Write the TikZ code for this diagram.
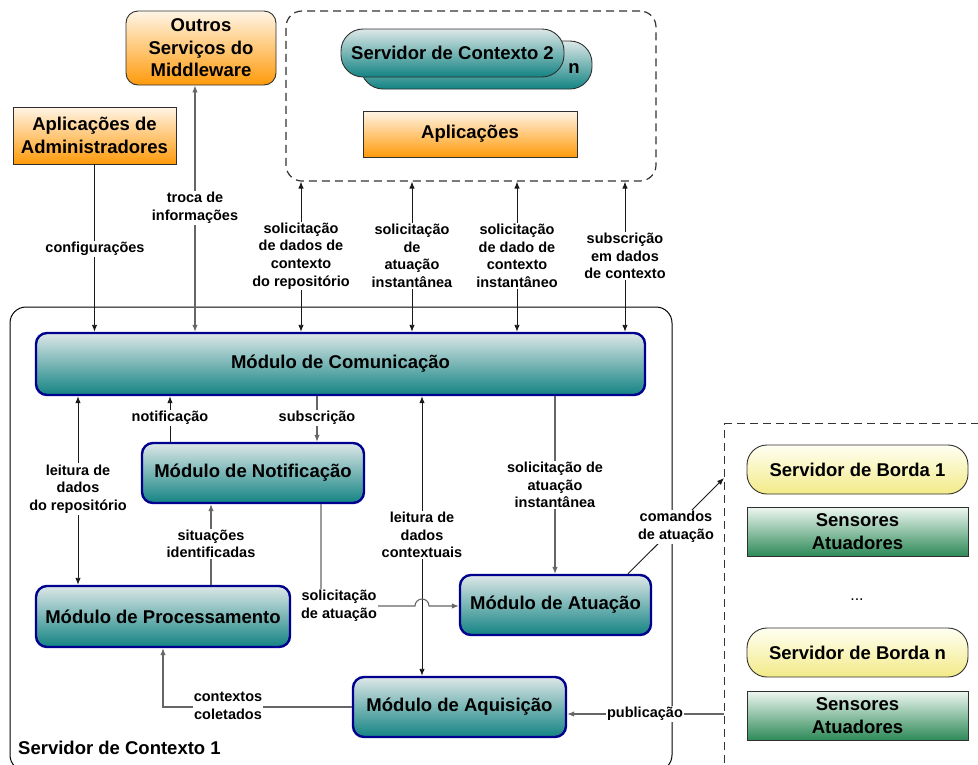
\documentclass[tikz,border=0pt]{standalone}
\usepackage{fontspec}
\setmainfont{Liberation Sans}
\usetikzlibrary{arrows.meta}
\definecolor{tealD}{HTML}{138383}
\definecolor{tealL}{HTML}{DDE7E7}
\definecolor{orD}{HTML}{FF9A0A}
\definecolor{orL}{HTML}{FFF5E6}
\definecolor{yeD}{HTML}{F3EA88}
\definecolor{yeL}{HTML}{FFFFF2}
\definecolor{grD}{HTML}{2E8A58}
\definecolor{grL}{HTML}{EEF7F1}
\definecolor{navyb}{HTML}{00008E}
\definecolor{edgec}{HTML}{303030}
\definecolor{connc}{HTML}{1A1A1A}
\definecolor{conng}{HTML}{666666}
\newcommand\mainf{\fontsize{18.5}{22.5}\selectfont\bfseries}
\newcommand\lblf{\fontsize{14.5}{17.6}\selectfont\bfseries}
\tikzset{
  modbox/.style={draw=navyb, line width=2.4pt, rounded corners=11pt, top color=tealL, bottom color=tealD, font=\mainf, inner sep=0pt, align=center},
  orbox/.style={draw=edgec, line width=0.9pt, top color=orL, bottom color=orD, font=\mainf, inner sep=0pt, align=center},
  yebox/.style={draw=edgec, line width=0.9pt, top color=yeL, bottom color=yeD, font=\mainf, inner sep=0pt, align=center, rounded corners=20pt, minimum width=221pt, minimum height=49pt},
  grbox/.style={draw=edgec, line width=0.9pt, top color=grL, bottom color=grD, font=\mainf, inner sep=0pt, align=center, minimum width=221pt, minimum height=49pt},
  scpill/.style={draw=edgec, line width=0.9pt, top color=tealL, bottom color=tealD, font=\mainf, inner sep=0pt, rounded corners=22pt, minimum height=48pt},
  grpbox/.style={draw=black!80, line width=1.2pt, dash pattern=on 8pt off 5pt, inner sep=0pt},
  lbl/.style={fill=white, inner sep=1.2pt, align=center, font=\lblf},
  conn/.style={draw=connc, line width=0.9pt},
  conng/.style={draw=conng, line width=1.1pt},
  tip/.style={-{Latex[length=7pt,width=5.5pt]}},
  tipb/.style={{Latex[length=7pt,width=5.5pt]}-{Latex[length=7pt,width=5.5pt]}}
}
\begin{document}
\begin{tikzpicture}[x=1pt,y=-1pt]
\useasboundingbox (0,0) rectangle (978,764);
% groups
\node[grpbox, rounded corners=16pt, minimum width=370pt, minimum height=170pt] (topgrp) at (471,96) {};
\node[draw=black, line width=1pt, rounded corners=16pt, minimum width=662pt, minimum height=464pt, inner sep=0pt] (sc1) at (341,539) {};
\node[grpbox, minimum width=280pt, minimum height=370pt, anchor=north west] (edgegrp) at (724,423) {};
\node[font=\mainf, anchor=base west, inner sep=0pt] (sc1lbl) at (18,754) {Servidor de Contexto 1};
% top boxes
\node[orbox, rounded corners=12pt, minimum width=150pt, minimum height=74pt] (outros) at (201,48) {Outros\\Serviços do\\Middleware};
\node[orbox, minimum width=163pt, minimum height=57pt] (admin) at (94.5,135.5) {Aplicações de\\Administradores};
\node[scpill, minimum width=231pt] (sc2b) at (476.5,65) {};
\node[scpill, minimum width=223pt] (sc2f) at (452.5,53) {Servidor de Contexto 2};
\node[font=\mainf, inner sep=0pt] (sc2n) at (574,69) {n};
\node[orbox, minimum width=214pt, minimum height=46pt] (apps) at (470,134) {Aplicações};
% modules
\node[modbox, minimum width=609pt, minimum height=62pt] (com) at (340.5,364) {Módulo de Comunicação};
\node[modbox, minimum width=222pt, minimum height=60pt] (notif) at (253,473) {Módulo de Notificação};
\node[modbox, minimum width=254pt, minimum height=61pt] (proc) at (163,616.5) {Módulo de Processamento};
\node[modbox, minimum width=191pt, minimum height=60pt] (atua) at (555.5,605) {Módulo de Atuação};
\node[modbox, minimum width=213pt, minimum height=60pt] (aqui) at (459.5,707) {Módulo de Aquisição};
% edge servers
\node[yebox] (borda1) at (857.5,469.5) {Servidor de Borda 1};
\node[grbox] (sens1) at (857.5,531.5) {Sensores\\Atuadores};
\node[font=\fontsize{16}{18}\selectfont, inner sep=0pt] (dots) at (857,600) {...};
\node[yebox] (bordan) at (857.5,652.5) {Servidor de Borda n};
\node[grbox] (sensn) at (857.5,715.5) {Sensores\\Atuadores};
% helper x coordinates
\coordinate (x78) at (78,0);
\coordinate (x170) at (170,0);
\coordinate (x195) at (195,0);
\coordinate (x211) at (211,0);
\coordinate (x301) at (301,0);
\coordinate (x317) at (317,0);
\coordinate (x321) at (321,0);
\coordinate (x412) at (412,0);
\coordinate (x422) at (422,0);
\coordinate (x517) at (517,0);
\coordinate (x555) at (555,0);
\coordinate (x625) at (625,0);
\coordinate (x628) at (628,0);
\coordinate (cmd) at (724,478);
\coordinate (pub) at (724,714);
\coordinate (y606) at (0,606);
% connectors top
\draw[conn, tip] (admin.south) -- (admin.south |- com.north);
\draw[conng, tipb] (x195 |- com.north) -- (x195 |- outros.south);
\draw[conn, tipb] (x301 |- com.north) -- (x301 |- topgrp.south);
\draw[conn, tipb] (x412 |- com.north) -- (x412 |- topgrp.south);
\draw[conn, tipb] (x517 |- com.north) -- (x517 |- topgrp.south);
\draw[conn, tipb] (x625 |- com.north) -- (x625 |- topgrp.south);
\node[lbl] (lconf) at (95,249) {configurações};
\node[lbl] (ltroca) at (195,208) {troca de\\informações};
\node[lbl] (lsol1) at (301,256) {solicitação\\de dados de\\contexto\\do repositório};
\node[lbl] (lsol2) at (412,256) {solicitação\\de\\atuação\\instantânea};
\node[lbl] (lsol3) at (517,256) {solicitação\\de dado de\\contexto\\instantâneo};
\node[lbl] (lsub1) at (625,256) {subscrição\\em dados\\de contexto};
% connectors inside
\draw[conn, tipb] (x78 |- com.south) -- (x78 |- proc.north);
\draw[conn, tip] (x170 |- notif.north) -- (x170 |- com.south);
\draw[conng, tip] (x317 |- com.south) -- (x317 |- notif.north);
\draw[conng, tip] (x211 |- proc.north) -- (x211 |- notif.south);
\draw[conn, tipb] (x422 |- com.south) -- (x422 |- aqui.north);
\draw[conng, tip] (x555 |- com.south) -- (x555 |- atua.north);
\draw[conng, tip] (x321 |- notif.south) -- (x321 |- y606) -- (415,606) arc[start angle=180, end angle=360, radius=7] -- (atua.west |- y606);
\draw[conng, tip] (aqui.west) -| (proc.south);
\draw[conn, tip] (x628 |- atua.north) -- (cmd);
\draw[conng, tip] (pub) -- (pub -| aqui.east);
\node[lbl] (lleit1) at (78,489) {leitura de\\dados\\do repositório};
\node[lbl] (lnotif) at (170,418) {notificação};
\node[lbl] (lsub2) at (317,418) {subscrição};
\node[lbl] (lsit) at (211,544) {situações\\identificadas};
\node[lbl] (lleit2) at (422,535) {leitura de\\dados\\contextuais};
\node[lbl] (lsol4) at (555,485) {solicitação de\\atuação\\instantânea};
\node[lbl] (lsol5) at (339,606) {solicitação\\de atuação};
\node[lbl] (lcmd) at (676,527) {comandos\\de atuação};
\node[lbl] (lpub) at (645,714) {publicação};
\node[lbl] (lctx) at (228,706) {contextos\\coletados};
\end{tikzpicture}
\end{document}
